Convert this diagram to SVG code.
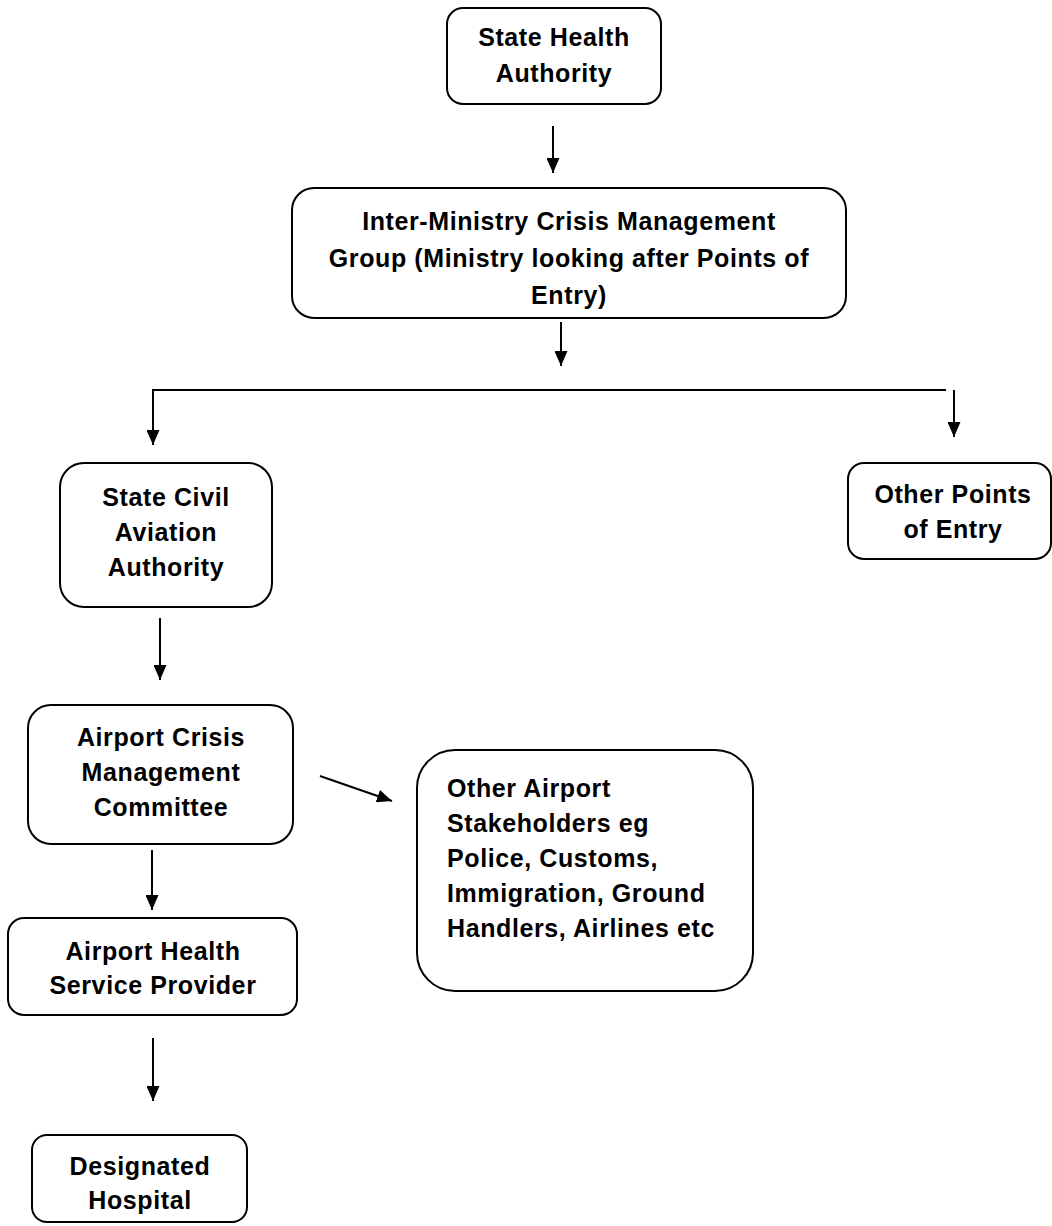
<svg xmlns="http://www.w3.org/2000/svg" width="1052" height="1226" viewBox="0 0 1052 1226">
<defs>
<style>
.box{fill:#fff;stroke:#000;stroke-width:2}
.t{font-family:"Liberation Sans",Arial,sans-serif;font-weight:bold;font-size:25px;letter-spacing:0.6px;fill:#000}
.c{text-anchor:middle}
.ln{fill:none;stroke:#000;stroke-width:2}
.ar{fill:none;stroke:#000;stroke-width:2;marker-end:url(#ah)}
</style>
<marker id="ah" markerUnits="userSpaceOnUse" markerWidth="16" markerHeight="13" refX="15" refY="6.5" orient="auto">
<path d="M0,0 L15,6.5 L0,13 z" fill="#000"/>
</marker>
</defs>
<rect width="1052" height="1226" fill="#fff"/>
<g id="connectors">
<line class="ar" x1="553" y1="126" x2="553" y2="173"/>
<line class="ar" x1="561" y1="322" x2="561" y2="366"/>
<polyline class="ar" points="946,390 153,390 153,445"/>
<line class="ar" x1="954" y1="390" x2="954" y2="437"/>
<line class="ar" x1="160" y1="618" x2="160" y2="680"/>
<line class="ar" x1="320" y1="776" x2="392" y2="801"/>
<line class="ar" x1="152" y1="850" x2="152" y2="910"/>
<line class="ar" x1="153" y1="1038" x2="153" y2="1101"/>
</g>
<g id="state-health-authority">
<rect class="box" x="447" y="8" width="214" height="96" rx="16"/>
<text class="t c" x="554" y="46">State Health</text>
<text class="t c" x="554" y="82">Authority</text>
</g>
<g id="inter-ministry">
<rect class="box" x="292" y="188" width="554" height="130" rx="22"/>
<text class="t c" x="569" y="230">Inter-Ministry Crisis Management</text>
<text class="t c" x="569" y="267">Group (Ministry looking after Points of</text>
<text class="t c" x="569" y="304">Entry)</text>
</g>
<g id="state-civil-aviation">
<rect class="box" x="60" y="463" width="212" height="144" rx="24"/>
<text class="t c" x="166" y="506">State Civil</text>
<text class="t c" x="166" y="541">Aviation</text>
<text class="t c" x="166" y="576">Authority</text>
</g>
<g id="other-points-of-entry">
<rect class="box" x="848" y="463" width="203" height="96" rx="16"/>
<text class="t c" x="953" y="503">Other Points</text>
<text class="t c" x="953" y="538">of Entry</text>
</g>
<g id="airport-crisis-committee">
<rect class="box" x="28" y="705" width="265" height="139" rx="23"/>
<text class="t c" x="161" y="746">Airport Crisis</text>
<text class="t c" x="161" y="781">Management</text>
<text class="t c" x="161" y="816">Committee</text>
</g>
<g id="other-stakeholders">
<rect class="box" x="417" y="750" width="336" height="241" rx="38"/>
<text class="t" x="447" y="797">Other Airport</text>
<text class="t" x="447" y="832">Stakeholders eg</text>
<text class="t" x="447" y="867">Police, Customs,</text>
<text class="t" x="447" y="902">Immigration, Ground</text>
<text class="t" x="447" y="937">Handlers, Airlines etc</text>
</g>
<g id="airport-health-service">
<rect class="box" x="8" y="918" width="289" height="97" rx="16"/>
<text class="t c" x="153" y="960">Airport Health</text>
<text class="t c" x="153" y="994">Service Provider</text>
</g>
<g id="designated-hospital">
<rect class="box" x="32" y="1135" width="215" height="87" rx="15"/>
<text class="t c" x="140" y="1175">Designated</text>
<text class="t c" x="140" y="1209">Hospital</text>
</g>
</svg>
